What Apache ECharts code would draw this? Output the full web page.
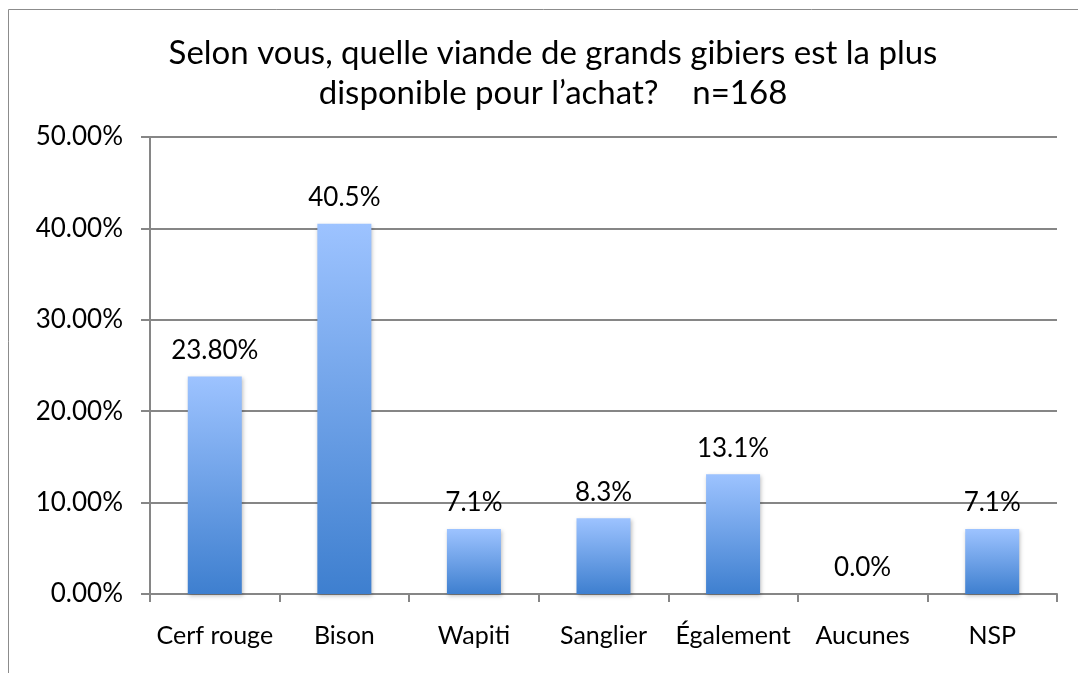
<!DOCTYPE html>
<html>
<head>
<meta charset="utf-8">
<script src="https://cdn.jsdelivr.net/npm/echarts@6/dist/echarts.min.js"></script>
<style>
  html, body { margin: 0; padding: 0; background: #fff; }
  #chart { width: 1078px; height: 673px; }
</style>
</head>
<body>
<div id="chart"></div>
<script>
const categories = ['Cerf rouge', 'Bison', 'Wapiti', 'Sanglier', 'Également', 'Aucunes', 'NSP'];
const values = [23.8, 40.5, 7.1, 8.3, 13.1, 0.0, 7.1];
const valueLabels = ['23.80%', '40.5%', '7.1%', '8.3%', '13.1%', '0.0%', '7.1%'];

const chart = echarts.init(document.getElementById('chart'));
const font = 'Lato, "Open Sans", sans-serif';

chart.setOption({
  animation: false,
  textStyle: { fontFamily: font },
  title: {
    text: 'Selon vous, quelle viande de grands gibiers est la plus\ndisponible pour l\u2019achat?    n=168',
    left: 548,
    textAlign: 'center',
    top: 28,
    textStyle: { fontSize: 33, fontWeight: 'normal', color: '#000', lineHeight: 40, fontFamily: font }
  },
  graphic: [{
    type: 'rect',
    shape: { x: 8.5, y: 9.5, width: 1200, height: 800 },
    style: { fill: 'none', stroke: '#8c8c8c', lineWidth: 1 },
    silent: true
  }],
  grid: { left: 150, right: 21, top: 137, bottom: 79 },
  xAxis: {
    type: 'category',
    data: categories,
    axisLine: { lineStyle: { color: '#868686', width: 2 } },
    axisTick: { show: true, length: 8, alignWithLabel: false, lineStyle: { color: '#868686', width: 2 } },
    axisLabel: { color: '#000', fontSize: 25, margin: 29, interval: 0 }
  },
  yAxis: {
    type: 'value',
    min: 0,
    max: 50,
    interval: 10,
    axisLine: { show: true, lineStyle: { color: '#868686', width: 2 } },
    axisTick: { show: true, length: 9, lineStyle: { color: '#868686', width: 2 } },
    splitLine: { lineStyle: { color: '#868686', width: 2 } },
    axisLabel: {
      color: '#000', fontSize: 26, margin: 27,
      formatter: v => v.toFixed(2) + '%'
    }
  },
  series: [{
    type: 'bar',
    data: values,
    barWidth: 54,
    itemStyle: {
      color: new echarts.graphic.LinearGradient(0, 0, 0, 1, [
        { offset: 0, color: '#9dc3ff' },
        { offset: 1, color: '#3e7fcf' }
      ]),
      shadowColor: 'rgba(0,0,0,0.25)',
      shadowBlur: 4,
      shadowOffsetX: 1,
      shadowOffsetY: 2
    },
    label: {
      show: true,
      position: 'top',
      distance: 13,
      color: '#000',
      fontSize: 26,
      formatter: p => valueLabels[p.dataIndex]
    }
  }]
});
</script>
</body>
</html>
